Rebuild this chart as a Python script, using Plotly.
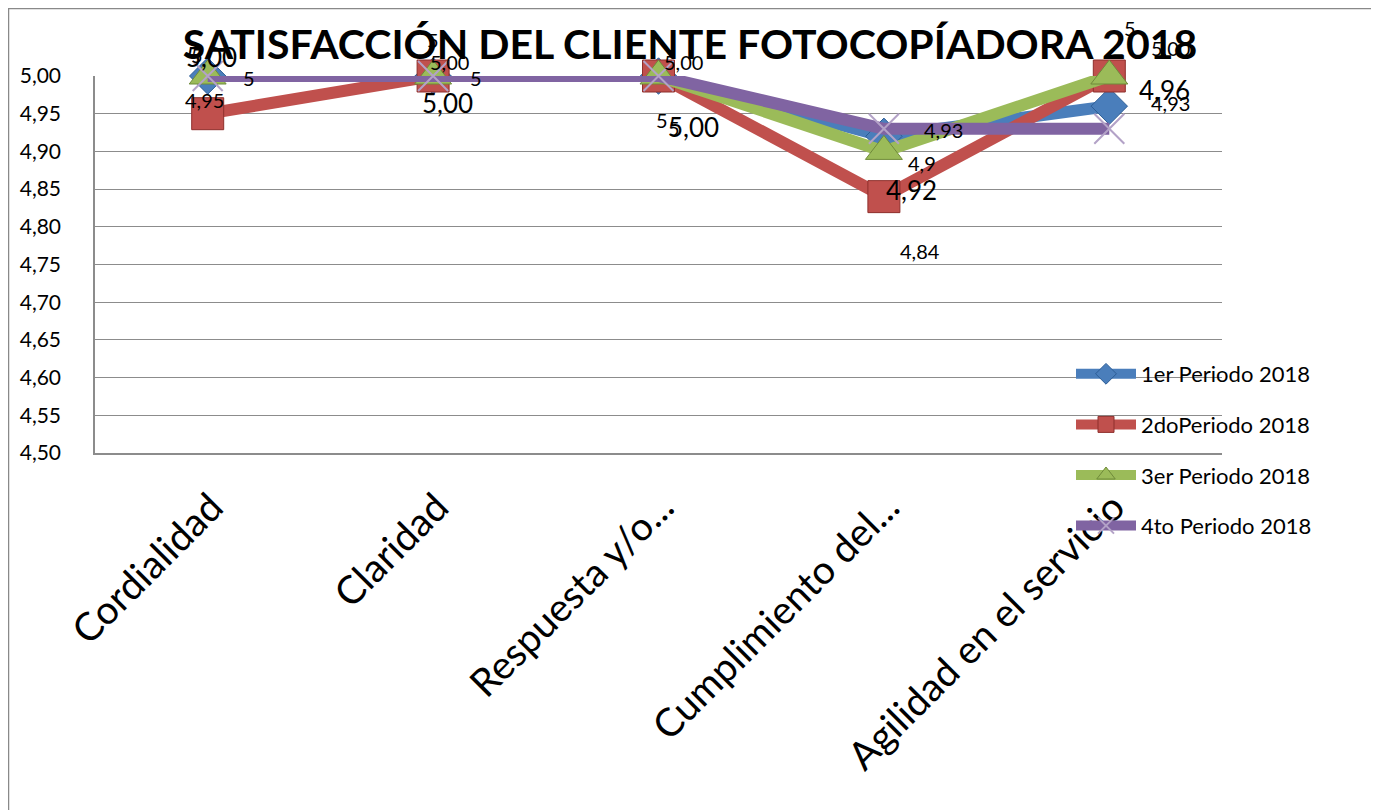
import plotly.graph_objects as go

categories = ["Cordialidad", "Claridad", "Respuesta y/o...", "Cumplimiento del...", "Agilidad en el servicio"]
series_names = ["1er Periodo 2018", "2doPeriodo 2018", "3er Periodo 2018", "4to Periodo 2018"]
p1 = [5.00, 5.00, 5.00, 4.92, 4.96]
p2 = [4.95, 5.00, 5.00, 4.84, 5.00]
p3 = [5.00, 5.00, 5.00, 4.90, 5.00]
p4 = [5.00, 5.00, 5.00, 4.93, 4.93]
y_ticks = [4.50, 4.55, 4.60, 4.65, 4.70, 4.75, 4.80, 4.85, 4.90, 4.95, 5.00]

FONT = "Lato"
colors = ["#4A7EBB", "#C0504D", "#9BBB59", "#8064A2"]
symbols = ["diamond", "square", "triangle-up", "x-thin"]
msizes = [28, 32, 32, 30]
mline = [dict(color="#2C5D96", width=1), dict(color="#8E2F2C", width=1),
         dict(color="#6F8A3A", width=1), dict(color="#B3A2C7", width=2)]

def fmt2(v):
    return f"{v:.2f}".replace(".", ",")

def fmtg(v):
    s = f"{v:g}"
    return s.replace(".", ",")

data = [p1, p2, p3, p4]
formats = [fmt2, fmt2, fmtg, fmtg]
label_sizes = [26, 20, 20, 20]
# label offsets (xshift, yshift) per series per category
offsets = [
    [(4, 19), (14, -27), (35, -51), (28, -54), (55, 16)],
    [(-3, 14), (16, 14), (25, 14), (36, -54), (61, 28)],
    [(-11, 21), (0, 36), (3, -44), (38, -12), (21, 48)],
    [(41, -2), (43, -2), (15, -52), (60, -1), (61, 26)],
]

fig = go.Figure()
for i in range(4):
    fig.add_trace(go.Scatter(
        x=categories, y=data[i], name=series_names[i], mode="lines+markers",
        line=dict(color=colors[i], width=12),
        marker=dict(symbol=symbols[i], size=msizes[i],
                    color=colors[i] if i < 3 else "#B3A2C7", line=mline[i]),
        cliponaxis=False, legendgroup=f"g{i}",
    ))

annotations = []
for i in range(4):
    for j, cat in enumerate(categories):
        off = offsets[i][j]
        annotations.append(dict(
            x=cat, y=data[i][j], xref="x", yref="y", text=formats[i](data[i][j]),
            showarrow=False, xshift=off[0], yshift=off[1],
            font=dict(family=FONT, size=label_sizes[i], color="black")))

L, R, T, B = 87, 165, 68, 365
PW = 1379 - L - R
PH = 810 - T - B

fig.update_layout(
    width=1379, height=810,
    paper_bgcolor="white", plot_bgcolor="white",
    margin=dict(l=L, r=R, t=T, b=B, autoexpand=False),
    separators=",.",
    font=dict(family=FONT, color="black"),
    title=dict(text="<b>SATISFACCIÓN DEL CLIENTE FOTOCOPÍADORA 2018</b>",
               x=682 / 1379, xanchor="center", y=1 - 37 / 810, yanchor="middle",
               font=dict(family=FONT, size=41, color="black")),
    showlegend=True,
    legend=dict(x=(1063 - L) / PW, y=(810 - B - 345) / PH, xanchor="left", yanchor="top",
                bgcolor="rgba(0,0,0,0)", font=dict(family=FONT, size=22),
                itemwidth=60, tracegroupgap=19, traceorder="grouped"),
    annotations=annotations,
    shapes=[dict(type="rect", xref="paper", yref="paper",
                 x0=(0.5 - L) / PW, x1=(1364 - L) / PW,
                 y0=(810 - B - 830) / PH, y1=(810 - B - 0.5) / PH,
                 line=dict(color="#898989", width=1.5), layer="below")],
)
fig.update_yaxes(range=[4.5, 5.0], tickvals=y_ticks, tickformat=".2f",
                 showgrid=True, gridcolor="#8C8C8C", gridwidth=1,
                 showline=True, linecolor="#8C8C8C", linewidth=1.5,
                 ticks="", ticklabelstandoff=28, automargin=False,
                 tickfont=dict(family=FONT, size=21, color="black"), zeroline=False)
fig.update_xaxes(range=[-0.5, 4.5], showgrid=False, showline=True,
                 linecolor="#8C8C8C", linewidth=1.5,
                 tickangle=-45, ticks="", ticklabelstandoff=14, ticklabelshift=4,
                 automargin=False,
                 tickfont=dict(family=FONT, size=39, color="black"))

fig.write_html("out.html")
